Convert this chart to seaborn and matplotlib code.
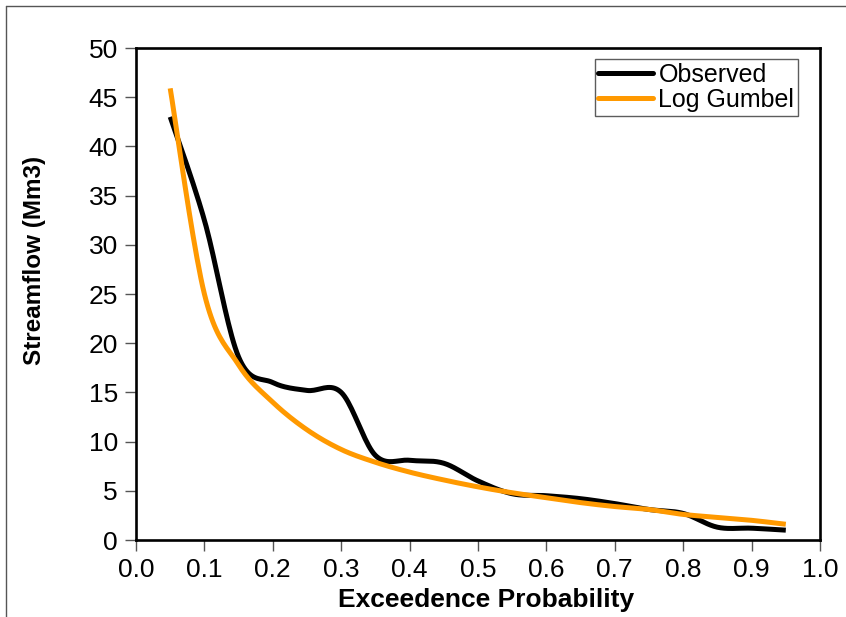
import numpy as np
import pandas as pd
import matplotlib
matplotlib.use("Agg")
import matplotlib.pyplot as plt
from matplotlib.lines import Line2D
import seaborn as sns

# Data
prob = [0.05, 0.10, 0.15, 0.20, 0.25, 0.30, 0.35, 0.40, 0.45, 0.50,
        0.55, 0.60, 0.65, 0.70, 0.75, 0.80, 0.85, 0.90, 0.95]
observed = [43.0, 32.5, 18.6, 16.0, 15.2, 15.0, 8.6, 8.1, 7.8, 6.0,
            4.7, 4.5, 4.2, 3.7, 3.1, 2.7, 1.3, 1.2, 1.0]
log_gumbel = [45.9, 25.0, 17.8, 14.0, 11.2, 9.2, 7.9, 6.9, 6.1, 5.4,
              4.8, 4.3, 3.8, 3.4, 3.1, 2.6, 2.3, 2.0, 1.6]
series_names = ["Observed", "Log Gumbel"]
xticks = [0.0, 0.1, 0.2, 0.3, 0.4, 0.5, 0.6, 0.7, 0.8, 0.9, 1.0]
yticks = [0, 5, 10, 15, 20, 25, 30, 35, 40, 45, 50]


def smooth(x, y, n=20):
    """Excel-like smoothed line (Catmull-Rom through the points)."""
    x = np.asarray(x, float)
    y = np.asarray(y, float)
    P = np.column_stack([x, y])
    P = np.vstack([P[0], P, P[-1]])
    out = []
    t = np.linspace(0, 1, n, endpoint=False)
    for i in range(1, len(P) - 2):
        p0, p1, p2, p3 = P[i - 1], P[i], P[i + 1], P[i + 2]
        b1 = p1 + (p2 - p0) / 6.0
        b2 = p2 - (p3 - p1) / 6.0
        seg = ((1 - t)[:, None] ** 3 * p1 + 3 * ((1 - t) ** 2 * t)[:, None] * b1
               + 3 * ((1 - t) * t ** 2)[:, None] * b2 + (t ** 3)[:, None] * p2)
        out.append(seg)
    out.append(P[-2][None, :])
    S = np.vstack(out)
    return S[:, 0], S[:, 1]


sns.set_theme(style="white")
plt.rcParams['font.family'] = ['Liberation Sans', 'DejaVu Sans']
plt.rcParams['text.color'] = 'black'
plt.rcParams['axes.labelcolor'] = 'black'
plt.rcParams['xtick.color'] = 'black'
plt.rcParams['ytick.color'] = 'black'

fig = plt.figure(figsize=(8.46, 6.17), dpi=100)
ax = fig.add_axes([136 / 846, 1 - 540 / 617, (820 - 136) / 846, (540 - 48) / 617])

colors = {"Observed": "#000000", "Log Gumbel": "#FF9900"}
frames = []
for name, vals in zip(series_names, [observed, log_gumbel]):
    sx, sy = smooth(prob, vals)
    frames.append(pd.DataFrame({"x": sx, "y": sy, "series": name,
                                "order": np.arange(len(sx))}))
df = pd.concat(frames, ignore_index=True)

sns.lineplot(data=df, x="x", y="y", hue="series", palette=colors,
             hue_order=series_names, sort=False, estimator=None,
             units="series", linewidth=3.6, ax=ax, legend=False)
for l in ax.lines:
    l.set_solid_capstyle("butt")

ax.set_xlim(0, 1.0)
ax.set_ylim(0, 50)
ax.set_xticks(xticks)
ax.set_xticklabels([f"{v:.1f}" for v in xticks])
ax.set_yticks(yticks)
ax.set_yticklabels([str(v) for v in yticks])
ax.tick_params(axis="both", direction="out", length=8, width=1.0,
               color="#555555", labelsize=19, labelcolor="black", pad=5,
               bottom=True, left=True)
for s in ax.spines.values():
    s.set_visible(True)
    s.set_color("black")
    s.set_linewidth(1.9)

ax.set_xlabel("Exceedence Probability", fontsize=19, fontweight="bold",
              va="center", color="black")
ax.xaxis.set_label_coords((486 - 136) / 684, (540 - 600) / 492)
ax.set_ylabel("Streamflow (Mm3)", fontsize=17.5, fontweight="bold",
              va="center", color="black")
ax.yaxis.set_label_coords((34 - 136) / 684, (540 - 260) / 492)

handles = [Line2D([0], [0], color=colors[n], lw=3.6, solid_capstyle="round")
           for n in series_names]
leg = ax.legend(handles, series_names, loc="upper right",
                bbox_to_anchor=(798 / 846, 1 - 59 / 617),
                bbox_transform=fig.transFigure,
                fontsize=18, frameon=True, fancybox=False,
                handlelength=2.2, handletextpad=0.2, borderpad=0.15,
                labelspacing=0.05, borderaxespad=0)
leg.get_frame().set_edgecolor("#333333")
leg.get_frame().set_linewidth(1.0)
for t in leg.get_texts():
    t.set_color("black")

# outer partial frame
fig.add_artist(Line2D([6 / 846, 6 / 846], [0, 1 - 6 / 617],
                      transform=fig.transFigure, color="#555555", lw=1.0))
fig.add_artist(Line2D([6 / 846, 1], [1 - 6 / 617, 1 - 6 / 617],
                      transform=fig.transFigure, color="#555555", lw=1.0))

fig.savefig("out.png", dpi=100, facecolor="white")
